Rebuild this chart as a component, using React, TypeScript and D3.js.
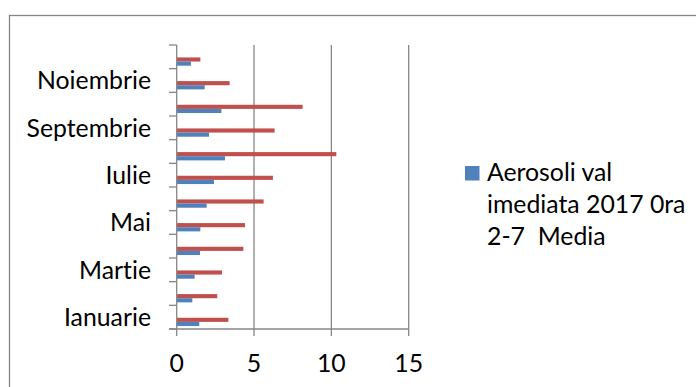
import React from "react";
import * as d3 from "d3";

const months = [
  "Ianuarie", "Februarie", "Martie", "Aprilie", "Mai", "Iunie",
  "Iulie", "August", "Septembrie", "Octombrie", "Noiembrie", "Decembrie",
];
const blueValues = [1.46, 1.01, 1.16, 1.51, 1.53, 1.94, 2.41, 3.12, 2.09, 2.89, 1.81, 0.92];
const redValues = [3.34, 2.62, 2.93, 4.31, 4.42, 5.62, 6.22, 10.32, 6.33, 8.14, 3.42, 1.53];
const xTicks = [0, 5, 10, 15];
const legendLines = ["Aerosoli val", "imediata 2017 0ra", "2-7  Media"];

const W = 696;
const H = 387;
const AXIS = "#868686";
const BLUE = "#4F81BD";
const RED = "#C0504D";
const FONT = "Lato, 'Open Sans', sans-serif";
const FS = 24.8;

export default function App() {
  const plot = { left: 176.7, right: 408.7, top: 45, bottom: 329 };
  const x = d3.scaleLinear().domain([0, 15]).range([plot.left, plot.right]);
  const y = d3
    .scaleBand<string>()
    .domain([...months].reverse())
    .range([plot.top, plot.bottom])
    .paddingInner(0)
    .paddingOuter(0);
  const bw = y.bandwidth();
  const sub = d3
    .scaleBand<string>()
    .domain(["none", "red", "blue"])
    .range([bw * 0.35, bw * 0.875]);

  const boundaries = d3.range(months.length + 1).map((i) => plot.top + i * bw);
  const textStyle: React.CSSProperties = {
    fontVariantLigatures: "none",
    fontFeatureSettings: '"liga" 0, "clig" 0',
    whiteSpace: "pre",
  };

  return (
    <svg
      width={W}
      height={H}
      style={{ position: "absolute", left: 0, top: 0, background: "#fff" }}
      fontFamily={FONT}
    >
      <rect x={0} y={0} width={W} height={H} fill="#fff" />
      <rect x={9.5} y={15.5} width={720} height={420} fill="#fff" stroke={AXIS} strokeWidth={1.3} />

      {/* gridlines */}
      {xTicks.filter((t) => t > 0).map((t) => (
        <line key={"g" + t} x1={x(t)} x2={x(t)} y1={plot.top} y2={plot.bottom} stroke={AXIS} strokeWidth={1.3} />
      ))}

      {/* bars */}
      {months.map((m, i) => (
        <g key={m}>
          <rect
            x={x(0)}
            y={(y(m) as number) + (sub("red") as number)}
            width={x(redValues[i]) - x(0)}
            height={sub.bandwidth()}
            fill={RED}
          />
          <rect
            x={x(0)}
            y={(y(m) as number) + (sub("blue") as number)}
            width={x(blueValues[i]) - x(0)}
            height={sub.bandwidth()}
            fill={BLUE}
          />
        </g>
      ))}

      {/* category axis */}
      <line x1={plot.left} x2={plot.left} y1={plot.top} y2={plot.bottom} stroke={AXIS} strokeWidth={1.3} />
      {boundaries.map((b, i) => (
        <line key={"ct" + i} x1={169} x2={plot.left} y1={b} y2={b} stroke={AXIS} strokeWidth={1.3} />
      ))}
      {months.map((m, i) =>
        i % 2 === 0 ? (
          <text
            key={"cl" + m}
            x={151}
            y={(y(m) as number) + bw / 2 + 8.7}
            textAnchor="end"
            fontSize={FS}
            fill="#000"
            style={textStyle}
          >
            {m}
          </text>
        ) : null
      )}

      {/* value axis */}
      <line x1={169} x2={plot.right} y1={plot.bottom} y2={plot.bottom} stroke={AXIS} strokeWidth={1.3} />
      {xTicks.map((t) => (
        <g key={"xt" + t}>
          <line x1={x(t)} x2={x(t)} y1={plot.bottom} y2={plot.bottom + 7} stroke={AXIS} strokeWidth={1.3} />
          <text x={x(t)} y={371.5} textAnchor="middle" fontSize={FS} fill="#000" style={textStyle}>
            {t}
          </text>
        </g>
      ))}

      {/* legend */}
      <rect x={465} y={166} width={14.5} height={14.5} fill={BLUE} />
      {legendLines.map((l, i) => (
        <text key={"lg" + i} x={487} y={180.7 + i * 32.2} fontSize={FS} fill="#000" style={textStyle}>
          {l}
        </text>
      ))}
    </svg>
  );
}
